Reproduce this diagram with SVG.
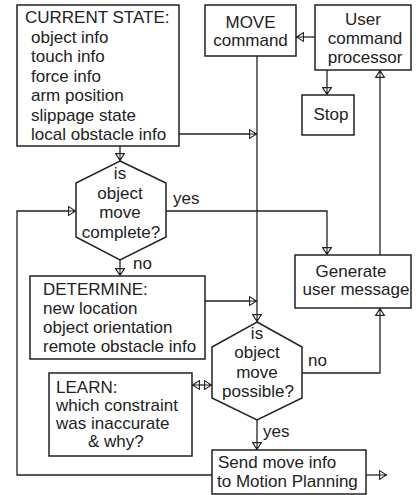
<svg xmlns="http://www.w3.org/2000/svg" width="416" height="495" viewBox="0 0 416 495">
  <style>
    .box { fill: #fff; stroke: #222; stroke-width: 1.5; }
    .t { font-family: "Liberation Sans", Arial, Helvetica, sans-serif; font-size: 17px; fill: #222; }
    .c { text-anchor: middle; }
    .wire { fill: none; stroke: #222; stroke-width: 1.3; }
    .arrow { marker-end: url(#head); }
  </style>
  <defs>
    <marker id="head" markerUnits="userSpaceOnUse" viewBox="0 0 8 10" refX="8" refY="5" markerWidth="8" markerHeight="10" orient="auto-start-reverse">
      <path d="M0.6,0.6 L7.4,5 L0.6,9.4 Z M0,5 H8" fill="#fff" stroke="#222" stroke-width="1.1"/>
    </marker>
  </defs>
  <rect width="416" height="495" fill="#fff"/>

  <!-- connectors -->
  <g id="connectors">
    <!-- user command processor -> MOVE command -->
    <path class="wire arrow" d="M315,37 H296"/>
    <!-- user command processor -> Stop -->
    <path class="wire arrow" d="M327,70 V95"/>
    <!-- Generate user message -> user command processor -->
    <path class="wire arrow" d="M380,255 V70"/>
    <!-- current state -> move possible line -->
    <path class="wire arrow" d="M179,134 H257"/>
    <!-- current state -> move complete? -->
    <path class="wire arrow" d="M120,146 V161"/>
    <!-- move complete? yes -> Generate -->
    <path class="wire arrow" d="M166,211 H327 V255"/>
    <!-- move complete? no -> DETERMINE -->
    <path class="wire arrow" d="M120,260 V276"/>
    <!-- MOVE command -> move possible? -->
    <path class="wire arrow" d="M257,56 V322"/>
    <!-- DETERMINE -> move possible line -->
    <path class="wire arrow" d="M205,301 H257"/>
    <!-- move possible? no -> Generate -->
    <path class="wire arrow" d="M302,373 H380 V308"/>
    <!-- LEARN <-> move possible? -->
    <path class="wire" d="M192,385 H212" marker-start="url(#head)" marker-end="url(#head)"/>
    <!-- move possible? yes -> Send -->
    <path class="wire arrow" d="M257,420 V450"/>
    <!-- Send -> out -->
    <path class="wire arrow" d="M366,475 H387"/>
    <!-- loop back -> move complete? -->
    <path class="wire arrow" d="M212,475 H17 V211 H76"/>
    <text class="t" x="173" y="204">yes</text>
    <text class="t" x="133" y="269">no</text>
    <text class="t" x="308" y="366">no</text>
    <text class="t" x="263" y="437">yes</text>
  </g>

  <g id="current-state">
    <rect class="box" x="17" y="5" width="162" height="141"/>
    <text class="t" x="25" y="23">CURRENT STATE:</text>
    <text class="t" x="31" y="42.5">object info</text>
    <text class="t" x="31" y="62">touch info</text>
    <text class="t" x="31" y="81.5">force info</text>
    <text class="t" x="31" y="101">arm position</text>
    <text class="t" x="31" y="120.5">slippage state</text>
    <text class="t" x="31" y="140">local obstacle info</text>
  </g>

  <g id="move-command">
    <rect class="box" x="205" y="5" width="91" height="51"/>
    <text class="t c" x="250.5" y="28">MOVE</text>
    <text class="t c" x="250.5" y="46">command</text>
  </g>

  <g id="user-command-processor">
    <rect class="box" x="315" y="5" width="96" height="65"/>
    <text class="t c" x="363" y="25">User</text>
    <text class="t c" x="365" y="44">command</text>
    <text class="t c" x="365" y="63">processor</text>
  </g>

  <g id="stop">
    <rect class="box" x="302" y="95" width="52" height="40"/>
    <text class="t c" x="331" y="120">Stop</text>
  </g>

  <g id="move-complete">
    <polygon class="box" points="120,161 166,183 166,237 120,260 76,237 76,183"/>
    <text class="t c" x="120" y="179">is</text>
    <text class="t c" x="120" y="198.5">object</text>
    <text class="t c" x="120" y="218">move</text>
    <text class="t c" x="121" y="237.5">complete?</text>
  </g>

  <g id="generate-message">
    <rect class="box" x="295" y="255" width="116" height="53"/>
    <text class="t c" x="351" y="277">Generate</text>
    <text class="t c" x="356" y="295">user message</text>
  </g>

  <g id="determine">
    <rect class="box" x="30" y="276" width="175" height="83"/>
    <text class="t" x="43" y="295">DETERMINE:</text>
    <text class="t" x="43" y="314">new location</text>
    <text class="t" x="43" y="333">object orientation</text>
    <text class="t" x="43" y="352">remote obstacle info</text>
  </g>

  <g id="move-possible">
    <polygon class="box" points="257,322 302,347 302,398 257,420 212,398 212,347"/>
    <text class="t c" x="257" y="339">is</text>
    <text class="t c" x="257" y="358">object</text>
    <text class="t c" x="257" y="378">move</text>
    <text class="t c" x="258" y="397">possible?</text>
  </g>

  <g id="learn">
    <rect class="box" x="49" y="373" width="143" height="83"/>
    <text class="t" x="56" y="393">LEARN:</text>
    <text class="t" x="56" y="411">which constraint</text>
    <text class="t" x="56" y="429">was inaccurate</text>
    <text class="t" x="88" y="447">&amp; why?</text>
  </g>

  <g id="send-move-info">
    <rect class="box" x="212" y="450" width="154" height="44"/>
    <text class="t" x="218" y="468">Send move info</text>
    <text class="t" x="217" y="487">to Motion Planning</text>
  </g>
</svg>
